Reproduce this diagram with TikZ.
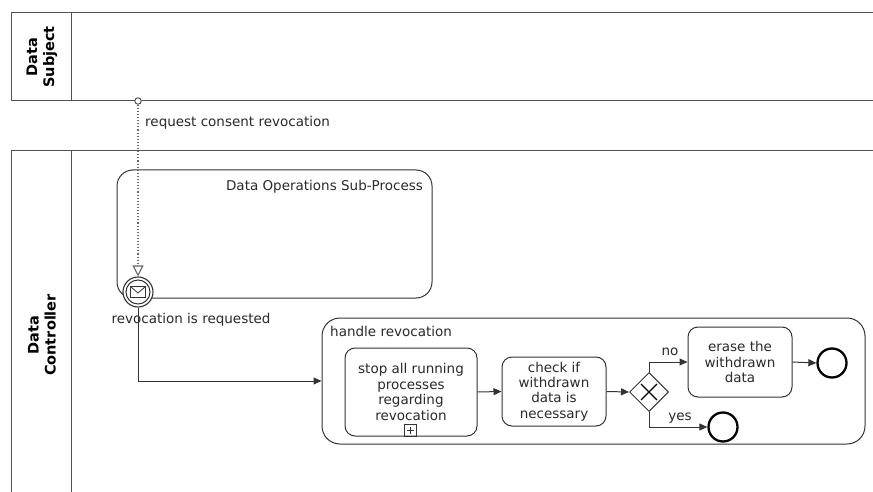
\documentclass[tikz,border=0pt]{standalone}
\usepackage{fontspec}
\setmainfont{DejaVu Sans}
\usetikzlibrary{arrows.meta,shapes.geometric}
\definecolor{ln}{HTML}{333333}
\definecolor{tx}{HTML}{2A2A2A}
\begin{document}
\begin{tikzpicture}[x=1pt,y=-1pt,
  every node/.style={text=tx},
  txt/.style={font=\fontsize{13.5}{15.5}\selectfont, inner sep=0pt},
  pooltxt/.style={font=\fontsize{14.5}{17}\selectfont\bfseries, rotate=90, align=center, inner sep=0pt, text=black},
  task/.style={draw=ln, line width=1pt, rounded corners=10pt, align=center, inner sep=0pt, font=\fontsize{13.5}{15.4}\selectfont},
  seq/.style={draw=ln, line width=1pt, -{Triangle[length=8pt,width=7pt]}},
  endev/.style={circle, draw=black, line width=2.3pt, minimum size=29pt, inner sep=0pt},
  poolline/.style={draw=ln!85, line width=1pt}
]
\useasboundingbox (0,0) rectangle (873,492);
\clip (0,0) rectangle (873,492);
\fill[white] (0,0) rectangle (873,492);
% pools
\draw[poolline] (880,13) -- (11,13) -- (11,101) -- (880,101);
\draw[poolline] (71,13) -- (71,101);
\draw[poolline] (880,151) -- (11,151) -- (11,520);
\draw[poolline] (71,151) -- (71,520);
\node[pooltxt] (lblDS) at (42,57) {Data\\Subject};
\node[pooltxt] (lblDC) at (42,335) {Data\\Controller};
% sub-process
\node[draw=ln, line width=1pt, rounded corners=16pt, minimum width=315pt, minimum height=128pt, inner sep=0pt] (sub) at (274.5,234) {};
\node[txt] (subtitle) at (324.5,187) {Data Operations Sub-Process};
% boundary message event
\node[circle, draw=ln, fill=white, line width=1.1pt, minimum size=30pt, inner sep=0pt] (ev) at (138,292) {};
\draw[ln, line width=1pt] (ev.center) circle[radius=12pt];
\draw[ln, line width=0.8pt] (130.5,286.5) rectangle (145.5,297.5);
\draw[ln, line width=0.8pt] (130.5,286.5) -- (138,293) -- (145.5,286.5);
\node[txt] (evlbl) at (191,320) {revocation is requested};
% message flow
\node[circle, draw=ln, fill=white, line width=0.8pt, minimum size=6.5pt, inner sep=0pt] (ms) at (138,101) {};
\draw[ln!75, line width=1.1pt, dotted, -{Triangle[open,length=11pt,width=11pt]}] (ms.south) -- (ev.north);
\node[txt, anchor=west] (msglbl) at (145,123) {request consent revocation};
% handle revocation
\node[draw=ln, line width=1pt, rounded corners=18pt, minimum width=543pt, minimum height=126pt, inner sep=0pt] (handle) at (593.5,381) {};
\node[txt, anchor=west] (hlbl) at (330,331) {handle revocation};
% tasks
\node[task, minimum width=132pt, minimum height=88pt] (t1) at (411,392) {stop all running\\processes\\regarding\\revocation};
\node[draw=ln, line width=0.8pt, minimum size=12pt, inner sep=0pt] (plus) at (410.5,430) {};
\draw[ln, line width=0.8pt] (407,430) -- (414,430) (410.5,426.5) -- (410.5,433.5);
\node[task, minimum width=104pt, minimum height=69pt] (t2) at (554,391.5) {check if\\withdrawn\\data is\\necessary};
\node[diamond, draw=ln, fill=white, line width=1pt, minimum width=39pt, minimum height=39pt, inner sep=0pt] (gw) at (649,392) {};
\draw[black, line width=1.2pt] (641,384) -- (657,400) (657,384) -- (641,400);
\node[task, minimum width=104pt, minimum height=70pt] (t3) at (740,362) {erase the\\withdrawn\\data};
\node[endev] (e1) at (832,363) {};
\node[endev] (e2) at (723,427) {};
% sequence flows
\draw[seq] (ev.south) |- (handle.west);
\draw[seq] (t1.east) -- (t2.west);
\draw[seq] (t2.east) -- (gw.west);
\draw[seq] (gw.north) |- (t3.west);
\draw[seq] (gw.south) |- (e2.west);
\draw[seq] (t3.east) -- (e1.west);
\node[txt] (nolbl) at (670,352) {no};
\node[txt] (yeslbl) at (680,418) {yes};
\end{tikzpicture}
\end{document}
